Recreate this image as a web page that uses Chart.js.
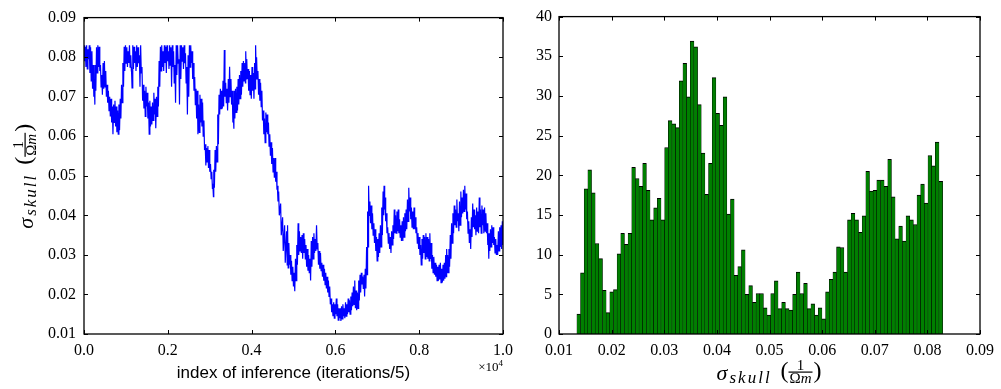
<!DOCTYPE html>
<html>
<head>
<meta charset="utf-8">
<script src="https://cdn.jsdelivr.net/npm/chart.js@4.4.0/dist/chart.umd.min.js"></script>
<style>
html, body { margin: 0; padding: 0; background: #fff; }
#wrap { position: relative; width: 1001px; height: 389px; }
#traceChart { position: absolute; left: 0; top: 0; }
#histChart { position: absolute; left: 520px; top: 0; }
</style>
</head>
<body>
<div id="wrap">
  <canvas id="traceChart" width="520" height="389"></canvas>
  <canvas id="histChart" width="481" height="389"></canvas>
</div>
<script>
// left panel: trace of sigma_skull, hi/lo envelope
const traceIter = [
  0, 31, 63, 94, 126, 157, 189, 220, 244, 267,
  299, 330, 362, 393, 424, 456, 487, 519, 550, 582,
  613, 645, 676, 708, 739, 770, 802, 833, 865, 896,
  928, 959, 990, 1022, 1053, 1085, 1116, 1132, 1164, 1195,
  1226, 1258, 1289, 1321, 1352, 1384, 1415, 1447, 1478, 1509,
  1541, 1572, 1604, 1635, 1667, 1698, 1730, 1761, 1793, 1824,
  1855, 1887, 1918, 1950, 1981, 2013, 2044, 2075, 2107, 2138,
  2170, 2201, 2233, 2264, 2296, 2327, 2359, 2390, 2422, 2453,
  2485, 2516, 2547, 2579, 2610, 2642, 2673, 2704, 2736, 2767,
  2799, 2830, 2862, 2893, 2925, 2956, 2987, 3019, 3050, 3074,
  3097, 3129, 3160, 3192, 3223, 3255, 3286, 3318, 3349, 3381,
  3412, 3444, 3475, 3507, 3538, 3562, 3585, 3616, 3648, 3679,
  3711, 3742, 3774, 3805, 3837, 3860, 3884, 3915, 3947, 3978,
  4010, 4041, 4072, 4096, 4119, 4151, 4182, 4214, 4245, 4277,
  4308, 4340, 4371, 4402, 4434, 4465, 4497, 4528, 4560, 4591,
  4615, 4646, 4693, 4740, 4788, 4835, 4858, 4889, 4921, 4952,
  4984, 5015, 5047, 5078, 5110, 5141, 5172, 5204, 5235, 5267,
  5298, 5330, 5361, 5393, 5424, 5456, 5487, 5519, 5550, 5581,
  5613, 5644, 5676, 5707, 5739, 5770, 5802, 5833, 5864, 5896,
  5927, 5959, 5990, 6022, 6053, 6084, 6116, 6147, 6179, 6210,
  6242, 6273, 6305, 6336, 6368, 6399, 6430, 6462, 6493, 6525,
  6556, 6588, 6619, 6651, 6682, 6713, 6745, 6768, 6792, 6823,
  6855, 6886, 6918, 6949, 6981, 7012, 7043, 7075, 7106, 7138,
  7161, 7185, 7216, 7248, 7279, 7311, 7342, 7373, 7405, 7436,
  7468, 7499, 7531, 7562, 7594, 7625, 7657, 7688, 7720, 7751,
  7783, 7814, 7846, 7877, 7908, 7940, 7971, 8003, 8034, 8066,
  8097, 8129, 8160, 8191, 8223, 8254, 8286, 8317, 8349, 8380,
  8412, 8443, 8474, 8506, 8537, 8569, 8600, 8632, 8655, 8679,
  8710, 8742, 8773, 8805, 8836, 8868, 8899, 8931, 8962, 8994,
  9025, 9056, 9088, 9119, 9151, 9182, 9214, 9245, 9277, 9308,
  9339, 9371, 9402, 9434, 9465, 9497, 9528, 9560, 9591, 9622,
  9646, 9670, 9701, 9732, 9764, 9795, 9827, 9858, 9890, 9921,
  9953, 9984
];
const traceHigh = [
  .083, .0826, .083, .082, .083, .0825, .0815, .078, .074, .078,
  .0825, .083, .0826, .078, .0755, .0785, .079, .0765, .073, .0715,
  .070, .0695, .0675, .068, .069, .0675, .0665, .068, .0695, .073,
  .0785, .0826, .083, .0825, .0815, .083, .0805, .0775, .083, .0826,
  .0815, .083, .0825, .0805, .083, .0775, .073, .0715, .0725, .071,
  .0685, .069, .0675, .0685, .071, .0695, .070, .0725, .079, .0826,
  .083, .0815, .083, .0826, .083, .0815, .083, .0825, .083, .0815,
  .078, .083, .083, .0795, .083, .083, .0825, .083, .081, .0775,
  .0805, .083, .083, .0815, .0785, .075, .072, .0715, .068, .0705,
  .0695, .0685, .064, .058, .057, .0575, .0565, .053, .051, .048,
  .0515, .0565, .0575, .0655, .0705, .072, .0715, .074, .0818, .0735,
  .072, .0745, .0776, .0745, .0715, .066, .0715, .072, .0725, .0745,
  .0755, .0765, .0785, .079, .0785, .0815, .0795, .077, .0765, .0755,
  .0775, .076, .0785, .083, .080, .0765, .0745, .0735, .0715, .0665,
  .0645, .066, .0655, .0635, .0605, .0585, .057, .0545, .0545, .051,
  .0475, .046, .043, .0395, .0375, .036, .0375, .033, .030, .0285,
  .027, .0255, .029, .0325, .038, .036, .0345, .035, .0355, .034,
  .0325, .0315, .030, .029, .0335, .0345, .0355, .034, .0375, .033,
  .031, .0305, .028, .0275, .0265, .0255, .0245, .0235, .022, .019,
  .0175, .018, .0175, .019, .0175, .0165, .0165, .017, .0175, .0165,
  .018, .0175, .019, .0185, .0195, .0205, .022, .0235, .021, .0205,
  .0235, .025, .0255, .0245, .025, .0265, .032, .041, .0475, .0435,
  .0425, .0405, .038, .0365, .0345, .034, .0355, .0375, .042, .046,
  .0475, .0445, .0405, .037, .0355, .0345, .036, .0375, .0415, .040,
  .041, .0415, .039, .0375, .0385, .0395, .0405, .0415, .044, .047,
  .0445, .042, .041, .042, .0395, .037, .0355, .0345, .0325, .034,
  .035, .0345, .0355, .0345, .034, .0355, .033, .030, .0295, .028,
  .0275, .027, .0275, .028, .0265, .0275, .028, .030, .0315, .030,
  .0315, .035, .038, .0405, .0425, .0415, .044, .0405, .0435, .046,
  .0445, .0465, .0475, .0455, .041, .0385, .0365, .0395, .043, .0415,
  .040, .042, .041, .0445, .0415, .0425, .0415, .042, .0405, .038,
  .0355, .0355, .0365, .0375, .037, .0345, .034, .0325, .036, .037,
  .0375, .0385
];
const traceLow = [
  .079, .0775, .077, .0795, .076, .074, .072, .070, .068, .0715,
  .076, .0775, .0765, .0725, .0705, .072, .0725, .070, .0685, .0665,
  .065, .0635, .0605, .0635, .0625, .061, .0605, .0615, .0645, .0685,
  .0725, .0765, .0785, .0775, .0785, .0775, .0765, .0722, .077, .0785,
  .0765, .0775, .0785, .0725, .076, .069, .067, .065, .0675, .0645,
  .0605, .0625, .063, .064, .0655, .062, .065, .0675, .0725, .0765,
  .0775, .0765, .0785, .076, .079, .077, .078, .0725, .0775, .0735,
  .0685, .0755, .0785, .068, .0745, .079, .077, .0785, .0735, .0655,
  .070, .0775, .0785, .0745, .0715, .068, .0645, .0605, .061, .0635,
  .0625, .060, .0565, .0526, .0535, .052, .051, .0493, .0468, .0447,
  .047, .051, .0535, .058, .0655, .067, .067, .0675, .070, .0685,
  .0665, .0685, .070, .068, .0635, .0619, .0645, .066, .0665, .068,
  .0695, .0705, .0725, .074, .0735, .0745, .0745, .0715, .0705, .0695,
  .0715, .0695, .072, .0745, .0745, .0705, .069, .0675, .064, .0605,
  .0584, .061, .0605, .0575, .0551, .053, .051, .0495, .0485, .0465,
  .0435, .040, .035, .031, .028, .0275, .0267, .0275, .025, .0235,
  .022, .0208, .0235, .0275, .030, .031, .0305, .029, .0305, .029,
  .027, .026, .0255, .0235, .027, .029, .0305, .031, .0315, .0275,
  .0265, .026, .0245, .0235, .0225, .0215, .0205, .0195, .0175, .0155,
  .0145, .014, .015, .0145, .0135, .014, .0133, .0138, .0145, .014,
  .0145, .015, .0155, .015, .016, .017, .0175, .0165, .016, .0165,
  .0185, .0205, .0225, .0215, .0195, .0215, .025, .032, .040, .038,
  .0365, .035, .033, .031, .0285, .0295, .0305, .032, .035, .040,
  .0415, .0385, .0355, .033, .0315, .0305, .0325, .034, .0355, .0355,
  .036, .0355, .0345, .0335, .0335, .0345, .036, .0365, .0385, .041,
  .039, .037, .0365, .0365, .0355, .033, .0315, .030, .0275, .029,
  .0305, .029, .0295, .029, .0285, .029, .0265, .0255, .025, .0245,
  .0235, .0235, .0238, .023, .023, .0235, .024, .0245, .0255, .0255,
  .027, .029, .033, .0355, .0375, .037, .0385, .036, .0375, .0395,
  .0405, .041, .0415, .039, .0355, .033, .0315, .0345, .037, .0365,
  .035, .036, .0355, .037, .0355, .0375, .0355, .036, .0355, .0325,
  .029, .031, .032, .033, .0325, .0305, .030, .030, .031, .032,
  .0315, .0325
];
const traceXTickLabels = ['0.0', '0.2', '0.4', '0.6', '0.8', '1.0'];
const traceYTickLabels = ['0.01', '0.02', '0.03', '0.04', '0.05', '0.06', '0.07', '0.08', '0.09'];
const traceXTitle = 'index of inference (iterations/5)';

// right panel: histogram (100 bins between histMin and histMax)
const histMin = 0.0134, histMax = 0.0829;
const histCounts = [
  2.5, 7.7, 18.3, 20.7, 17.8, 11.4, 9.5, 5.5, 2.7, 5.3,
  5.6, 10.1, 12.7, 11.3, 12.7, 21.0, 19.6, 18.6, 21.5, 18.1,
  14.4, 15.9, 17.1, 14.4, 23.5, 26.9, 26.5, 26.0, 31.9, 34.1,
  29.9, 36.9, 36.2, 28.9, 22.8, 17.6, 21.5, 32.3, 27.8, 26.3,
  29.9, 15.1, 17.0, 7.4, 8.5, 10.6, 5.0, 6.1, 4.0, 5.1,
  5.1, 3.3, 2.4, 5.1, 6.7, 3.2, 4.0, 3.2, 3.0, 5.0,
  7.8, 5.1, 6.4, 3.2, 3.8, 2.4, 3.3, 1.9, 5.3, 6.9,
  7.8, 11.0, 10.9, 7.8, 14.4, 15.2, 14.4, 12.8, 14.9, 20.5,
  18.0, 18.1, 19.4, 19.4, 18.6, 22.0, 17.3, 12.0, 13.6, 11.7,
  14.9, 14.4, 13.8, 17.5, 18.9, 16.5, 22.5, 21.2, 24.2, 19.25
];
const histXTickLabels = ['0.01', '0.02', '0.03', '0.04', '0.05', '0.06', '0.07', '0.08', '0.09'];
const histYTickLabels = ['0', '5', '10', '15', '20', '25', '30', '35', '40'];

Chart.defaults.font.family = '"Liberation Serif", "DejaVu Serif", serif';
Chart.defaults.font.size = 16;
Chart.defaults.color = '#000';

const tracePoints = [];
traceIter.forEach(function(it, k) {
    tracePoints.push({x: it, y: traceHigh[k]});
    tracePoints.push({x: it + 15, y: traceLow[k]});
});

const binWidth = (histMax - histMin) / histCounts.length;
const histBars = histCounts.map(function(c, i) {
    return {x: histMin + (i + 0.5) * binWidth, y: c};
});

// box round the plot with short ticks pointing inwards, on all four sides
const framePlugin = {
    id: 'frame',
    afterDatasetsDraw(chart) {
        const {ctx, chartArea: a, scales} = chart;
        const len = 4;
        ctx.save();
        ctx.strokeStyle = '#000';
        ctx.lineWidth = 1;
        ctx.beginPath();
        scales.x.ticks.forEach(function(t) {
            const px = Math.round(scales.x.getPixelForValue(t.value)) + 0.5;
            ctx.moveTo(px, a.bottom); ctx.lineTo(px, a.bottom - len);
            ctx.moveTo(px, a.top); ctx.lineTo(px, a.top + len);
        });
        scales.y.ticks.forEach(function(t) {
            const py = Math.round(scales.y.getPixelForValue(t.value)) + 0.5;
            ctx.moveTo(a.left, py); ctx.lineTo(a.left + len, py);
            ctx.moveTo(a.right, py); ctx.lineTo(a.right - len, py);
        });
        ctx.stroke();
        ctx.lineWidth = 1.3;
        ctx.strokeRect(a.left, a.top, a.right - a.left, a.bottom - a.top);
        ctx.restore();
    }
};

// sigma_skull (1 / Omega m); origin = start of text, y = 0 on the fraction bar
function drawSigmaLabel(ctx) {
    const serif = '"Liberation Serif", "DejaVu Serif", serif';
    ctx.fillStyle = '#000';
    ctx.textAlign = 'left';
    ctx.textBaseline = 'alphabetic';
    ctx.font = 'italic 22px ' + serif;
    ctx.fillText('σ', 0, 8);
    ctx.font = 'italic 17px ' + serif;
    ctx.letterSpacing = '2px';
    ctx.fillText('skull', 13, 11);
    ctx.letterSpacing = '0px';
    ctx.font = '24px ' + serif;
    ctx.fillText('(', 64, 6);
    ctx.fillText(')', 97, 6);
    ctx.fillRect(72, -0.5, 24, 1.2);
    ctx.font = '15px ' + serif;
    ctx.textAlign = 'center';
    ctx.fillText('1', 84, -2);
    const wO = ctx.measureText('Ω').width;
    ctx.font = 'italic 15px ' + serif;
    const wM = ctx.measureText('m').width;
    const x0 = 84 - (wO + wM) / 2;
    ctx.textAlign = 'left';
    ctx.fillText('m', x0 + wO, 11);
    ctx.font = '15px ' + serif;
    ctx.fillText('Ω', x0, 11);
}

const traceLabels = {
    id: 'traceLabels',
    afterDraw(chart) {
        const ctx = chart.ctx, a = chart.chartArea;
        ctx.save();
        ctx.fillStyle = '#000';
        ctx.font = '17px "Liberation Sans", sans-serif';
        ctx.textAlign = 'center';
        ctx.textBaseline = 'middle';
        ctx.fillText(traceXTitle, (a.left + a.right) / 2, 373);
        ctx.textAlign = 'right';
        ctx.textBaseline = 'alphabetic';
        ctx.font = '9px "Liberation Serif", serif';
        const wSup = ctx.measureText('4').width;
        ctx.fillText('4', a.right, 366);
        ctx.font = '13px "Liberation Serif", serif';
        ctx.fillText('×10', a.right - wSup, 371);
        ctx.translate(25, (a.top + a.bottom) / 2 + 53);
        ctx.rotate(-Math.PI / 2);
        drawSigmaLabel(ctx);
        ctx.restore();
    }
};

const histLabels = {
    id: 'histLabels',
    afterDraw(chart) {
        const ctx = chart.ctx, a = chart.chartArea;
        ctx.save();
        ctx.translate((a.left + a.right) / 2 - 53, 372);
        drawSigmaLabel(ctx);
        ctx.restore();
    }
};

new Chart(document.getElementById('traceChart'), {
    type: 'line',
    data: {
        datasets: [{
            data: tracePoints,
            borderColor: '#0000ff',
            borderWidth: 1.2,
            pointRadius: 0,
            tension: 0
        }]
    },
    options: {
        responsive: false,
        animation: false,
        layout: { padding: { left: 0, right: 12, top: 14, bottom: 0 } },
        plugins: { legend: { display: false }, tooltip: { enabled: false } },
        scales: {
            x: {
                type: 'linear', min: 0, max: 10000,
                afterFit: function(s) { s.height = 55; },
                grid: { display: false, drawTicks: false },
                border: { display: false },
                ticks: {
                    stepSize: 2000, padding: 7, maxRotation: 0,
                    callback: function(v, i) { return traceXTickLabels[i]; }
                }
            },
            y: {
                min: 0.01, max: 0.09,
                afterFit: function(s) { s.width = 84; },
                grid: { display: false, drawTicks: false },
                border: { display: false },
                ticks: {
                    stepSize: 0.01, padding: 8,
                    callback: function(v, i) { return traceYTickLabels[i]; }
                }
            }
        }
    },
    plugins: [framePlugin, traceLabels]
});

new Chart(document.getElementById('histChart'), {
    type: 'bar',
    data: {
        datasets: [{
            data: histBars,
            backgroundColor: '#007f00',
            borderColor: '#000',
            borderWidth: { top: 1, left: 0.5, right: 0.5, bottom: 0 },
            barPercentage: 1,
            categoryPercentage: 1
        }]
    },
    options: {
        responsive: false,
        animation: false,
        layout: { padding: { left: 0, right: 18, top: 14, bottom: 0 } },
        plugins: { legend: { display: false }, tooltip: { enabled: false } },
        scales: {
            x: {
                type: 'linear', min: 0.01, max: 0.09, offset: false,
                afterFit: function(s) { s.height = 55; },
                grid: { display: false, drawTicks: false, offset: false },
                border: { display: false },
                ticks: {
                    stepSize: 0.01, padding: 7, maxRotation: 0,
                    callback: function(v, i) { return histXTickLabels[i]; }
                }
            },
            y: {
                min: 0, max: 40,
                afterFit: function(s) { s.width = 39; },
                grid: { display: false, drawTicks: false },
                border: { display: false },
                ticks: {
                    stepSize: 5, padding: 7,
                    callback: function(v, i) { return histYTickLabels[i]; }
                }
            }
        }
    },
    plugins: [framePlugin, histLabels]
});
</script>
</body>
</html>
